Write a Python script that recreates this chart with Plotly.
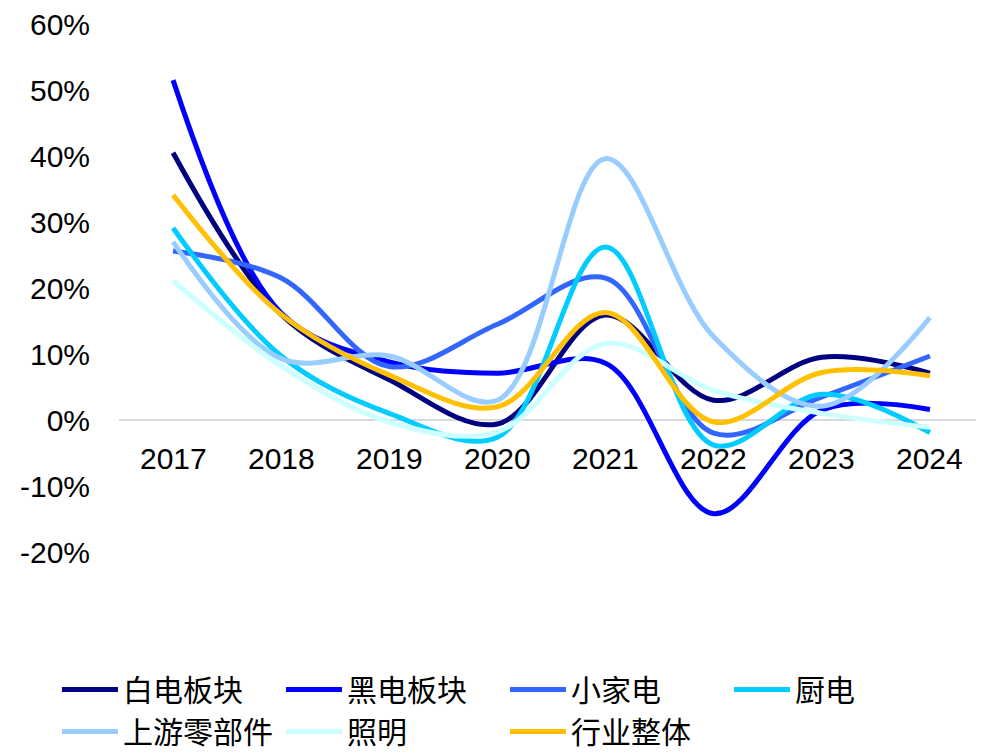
import plotly.graph_objects as go

# ===== DATA (YoY growth, %) =====
YEARS = ['2017', '2018', '2019', '2020', '2021', '2022', '2023', '2024']

BAIDIAN = [40.5, 16.0, 6.1, -0.6, 15.9, 3.0, 9.5, 7.1]        # 白电板块
HEIDIAN = [51.5, 16.2, 8.8, 7.1, 8.6, -14.2, 1.5, 1.6]        # 黑电板块
XIAOJIADIAN = [25.6, 21.5, 8.1, 14.5, 21.5, -2.0, 3.5, 9.7]   # 小家电
CHUDIAN = [29.1, 9.7, 1.0, -2.6, 26.2, -3.8, 3.9, -1.9]       # 厨电
SHANGYOU = [27.0, 9.3, 9.7, 3.0, 39.6, 12.6, 2.1, 15.5]       # 上游零部件
ZHAOMING = [21.1, 8.2, -0.3, -1.8, 11.6, 4.5, 1.0, -1.1]      # 照明
HANGYE = [34.1, 16.0, 6.8, 2.0, 16.3, -0.3, 7.2, 6.7]         # 行业整体

Y_TICKS = [-20, -10, 0, 10, 20, 30, 40, 50, 60]
Y_TICK_LABELS = ['-20%', '-10%', '0%', '10%', '20%', '30%', '40%', '50%', '60%']

# ===== STYLE =====
SERIES = [
    ('白电板块', BAIDIAN, '#000080'),
    ('黑电板块', HEIDIAN, '#0000FF'),
    ('小家电', XIAOJIADIAN, '#3366FF'),
    ('厨电', CHUDIAN, '#00CCFF'),
    ('上游零部件', SHANGYOU, '#99CCFF'),
    ('照明', ZHAOMING, '#CCFFFF'),
    ('行业整体', HANGYE, '#FFC000'),
]
FONT = 'Liberation Sans, Arial, sans-serif'
CJK_FONT = 'Noto Sans CJK SC, sans-serif'

fig = go.Figure()
for name, vals, color in SERIES:
    fig.add_trace(go.Scatter(
        x=YEARS, y=vals, name=name, mode='lines',
        line=dict(color=color, width=5, shape='spline', smoothing=1),
    ))

# x labels sit just under the zero line (category index on the x axis)
for i, yr in enumerate(YEARS):
    fig.add_annotation(x=i, y=0, xref='x', yref='y', text=yr, showarrow=False,
                       yanchor='middle', yshift=-38,
                       font=dict(family=FONT, size=30, color='black'))

# page body has an 8px margin, so the figure is pulled in by that much
fig.update_layout(
    width=984, height=753,
    paper_bgcolor='white', plot_bgcolor='white',
    margin=dict(l=111, r=8, t=16, b=209, autoexpand=False),
    font=dict(family=FONT, size=30, color='black'),
    showlegend=True,
    legend=dict(
        orientation='h', x=-0.0717, xanchor='left', y=-0.211, yanchor='top',
        font=dict(family=CJK_FONT, size=30, color='black'),
        entrywidth=153, entrywidthmode='pixels', itemwidth=56,
        traceorder='normal',
    ),
)
fig.update_xaxes(type='category', range=[-0.5, 7.5], showticklabels=False,
                 showgrid=False, showline=False, zeroline=False, ticks='')
fig.update_yaxes(range=[-20, 60], tickvals=Y_TICKS, ticktext=Y_TICK_LABELS,
                 showgrid=False, showline=False, ticks='',
                 zeroline=True, zerolinecolor='#D9D9D9', zerolinewidth=1.5,
                 ticklabelstandoff=28, ticklabeloverflow='allow')

fig.write_html('out.html')
